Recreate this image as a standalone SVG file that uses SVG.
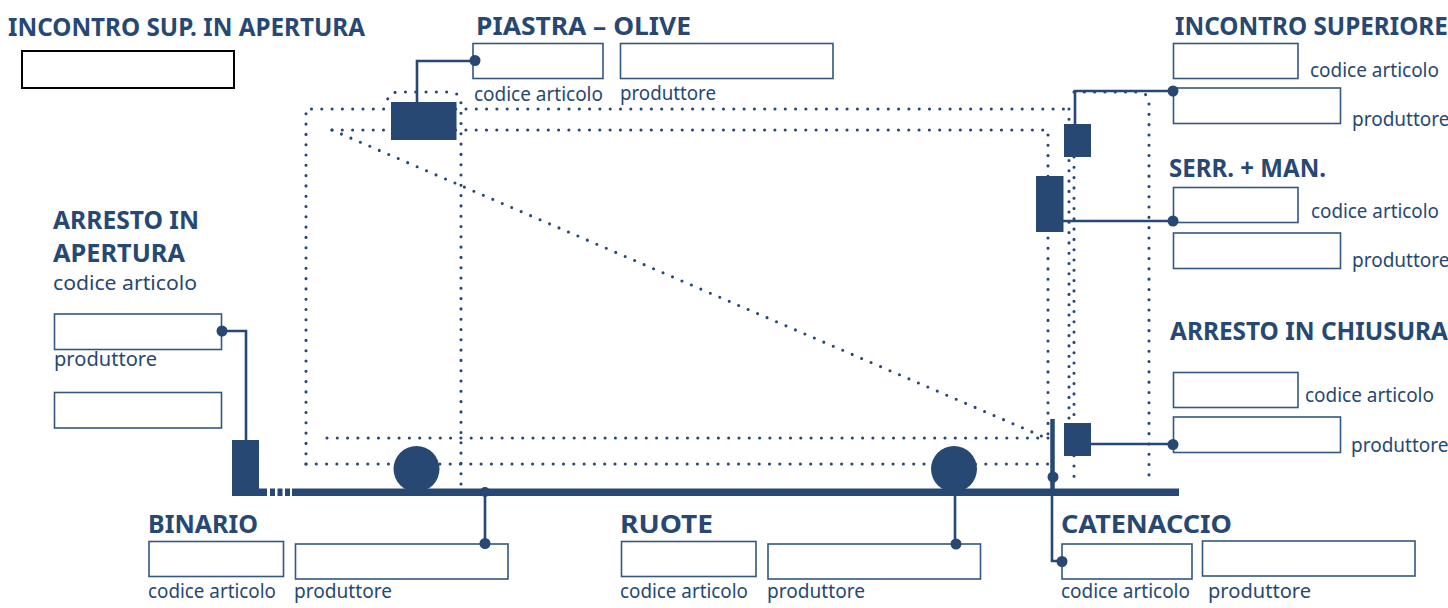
<svg xmlns="http://www.w3.org/2000/svg" width="1448" height="608" viewBox="0 0 1448 608">
<style>
text{font-family:"Noto Sans","Open Sans","Liberation Sans",sans-serif;fill:#264872}
.t{font-size:25px;font-weight:700}
.l{font-size:19.5px}
.n{font-size:19px}
.b{fill:#fff;stroke:#34577f;stroke-width:1.6}
.k{fill:#fff;stroke:#000;stroke-width:2}
.d{fill:none;stroke:#264872;stroke-width:3.1;stroke-linecap:round;stroke-dasharray:0 10.3}
.c{fill:none;stroke:#264872;stroke-width:2.6}
.s{fill:#264872}
</style>
<defs><circle id="dot" r="5.5" class="s"/></defs>
<g id="connectors">
<path class="d" d="M306 464V109H1070"/>
<path class="d" d="M306 464H1048"/>
<path class="d" d="M332 130H1048V438"/>
<path class="d" d="M332 130L1046 438"/>
<path class="d" d="M327 438H1048"/>
<path class="d" d="M461 484V104Q461 92 449 92H399Q387 92 387 104"/>
<path class="d" d="M1074 92H1137Q1149 92 1149 104V482"/>
<path class="d" d="M1069 109V430"/>
<path class="d" d="M1074 157V482"/>
<path class="c" d="M417 104V61H475"/>
<path class="c" d="M1075 125V91H1173"/>
<path class="c" d="M1060 221H1173"/>
<path class="c" d="M1091 444H1173"/>
<path class="c" d="M222 331H246V440"/>
<path class="c" d="M485 492V543"/>
<path class="c" d="M955 492V544"/>
<path class="c" d="M1052 496V561H1061"/>
<path d="M1052.500 419V490" fill="none" stroke="#264872" stroke-width="4.500"/>
</g>
<g id="rail">
<rect class="s" x="292" y="488.500" width="887" height="7.500"/>
<rect class="s" x="232" y="488.500" width="35" height="7.500"/>
<rect class="s" x="270" y="488.500" width="5" height="7.500"/>
<rect class="s" x="277.500" y="488.500" width="5" height="7.500"/>
<rect class="s" x="285" y="488.500" width="5" height="7.500"/>
<rect class="s" x="232" y="440" width="27" height="50"/>
<circle class="s" cx="416.500" cy="469" r="23"/>
<circle class="s" cx="954" cy="469" r="23"/>
<rect class="s" x="391" y="102" width="65.500" height="38"/>
<rect class="s" x="1064" y="124" width="27" height="33"/>
<rect class="s" x="1036" y="176" width="27.500" height="56"/>
<rect class="s" x="1064" y="423" width="27" height="33"/>
</g>
<g id="incontro-sup-apertura">
<text class="t" x="8" y="36" textLength="357" lengthAdjust="spacingAndGlyphs">INCONTRO SUP. IN APERTURA</text>
<rect class="k" x="22" y="51" width="212" height="37"/>
</g>
<g id="piastra-olive">
<text class="t" x="476" y="35" textLength="215" lengthAdjust="spacingAndGlyphs">PIASTRA – OLIVE</text>
<rect class="b" x="473" y="43.500" width="130" height="35"/>
<rect class="b" x="620.500" y="43.500" width="212.500" height="35"/>
<text class="l" x="474" y="101" textLength="129" lengthAdjust="spacingAndGlyphs">codice articolo</text>
<text class="l" x="620" y="100" textLength="96" lengthAdjust="spacingAndGlyphs">produttore</text>
<use href="#dot" x="475" y="60.500"/>
</g>
<g id="incontro-superiore">
<text class="t" x="0" y="0" transform="translate(1175 35) scale(.88 1)" textLength="310" lengthAdjust="spacingAndGlyphs">INCONTRO SUPERIORE</text>
<rect class="b" x="1173.500" y="43.500" width="124.500" height="35"/>
<rect class="b" x="1173.500" y="88" width="167" height="35.500"/>
<text class="l" x="1310" y="77" textLength="129" lengthAdjust="spacingAndGlyphs">codice articolo</text>
<text class="n" x="1352" y="126">produttore</text>
<use href="#dot" x="1173" y="91"/>
</g>
<g id="serr-man">
<text class="t" x="1169" y="177" textLength="157" lengthAdjust="spacingAndGlyphs">SERR. + MAN.</text>
<rect class="b" x="1173.500" y="187.500" width="124.500" height="35"/>
<rect class="b" x="1173.500" y="233" width="167" height="35.500"/>
<text class="l" x="1311" y="218" textLength="128" lengthAdjust="spacingAndGlyphs">codice articolo</text>
<text class="n" x="1352" y="267">produttore</text>
<use href="#dot" x="1173" y="221"/>
</g>
<g id="arresto-chiusura">
<text class="t" x="0" y="0" transform="translate(1170 340) scale(.88 1)" textLength="315.900" lengthAdjust="spacingAndGlyphs">ARRESTO IN CHIUSURA</text>
<rect class="b" x="1173.500" y="372.500" width="124.500" height="35"/>
<rect class="b" x="1173.500" y="417" width="167" height="35.500"/>
<text class="l" x="1305" y="402" textLength="129" lengthAdjust="spacingAndGlyphs">codice articolo</text>
<text class="n" x="1351" y="452">produttore</text>
<use href="#dot" x="1173" y="444.500"/>
</g>
<g id="arresto-apertura">
<text class="t" x="53" y="229" textLength="146" lengthAdjust="spacingAndGlyphs">ARRESTO IN</text>
<text class="t" x="53" y="262" textLength="132" lengthAdjust="spacingAndGlyphs">APERTURA</text>
<text class="l" x="53" y="290" textLength="144" lengthAdjust="spacingAndGlyphs">codice articolo</text>
<rect class="b" x="54.500" y="314" width="167" height="35.500"/>
<text class="l" x="54" y="366" textLength="103" lengthAdjust="spacingAndGlyphs">produttore</text>
<rect class="b" x="54.500" y="392.500" width="167" height="35.500"/>
<use href="#dot" x="222" y="331"/>
</g>
<g id="binario">
<text class="t" x="148" y="533" textLength="110" lengthAdjust="spacingAndGlyphs">BINARIO</text>
<rect class="b" x="149" y="541.500" width="134.500" height="35"/>
<rect class="b" x="295.500" y="544" width="212.500" height="35"/>
<text class="l" x="148" y="598" textLength="128" lengthAdjust="spacingAndGlyphs">codice articolo</text>
<text class="l" x="294" y="598" textLength="98" lengthAdjust="spacingAndGlyphs">produttore</text>
<use href="#dot" x="485" y="543.500"/>
<circle class="s" cx="485" cy="492" r="5"/>
</g>
<g id="ruote">
<text class="t" x="620" y="533" textLength="93" lengthAdjust="spacingAndGlyphs">RUOTE</text>
<rect class="b" x="621.500" y="541.500" width="134.500" height="35"/>
<rect class="b" x="768" y="544" width="212.500" height="35"/>
<text class="l" x="620" y="598" textLength="128" lengthAdjust="spacingAndGlyphs">codice articolo</text>
<text class="l" x="767" y="598" textLength="98" lengthAdjust="spacingAndGlyphs">produttore</text>
<use href="#dot" x="956" y="544"/>
</g>
<g id="catenaccio">
<text class="t" x="1061" y="533" textLength="171" lengthAdjust="spacingAndGlyphs">CATENACCIO</text>
<rect class="b" x="1062" y="544" width="130" height="35"/>
<rect class="b" x="1202.500" y="541" width="212.500" height="35"/>
<text class="l" x="1061" y="598" textLength="129" lengthAdjust="spacingAndGlyphs">codice articolo</text>
<text class="l" x="1208" y="598" textLength="103" lengthAdjust="spacingAndGlyphs">produttore</text>
<use href="#dot" x="1062" y="561.500"/>
<use href="#dot" x="1053" y="477"/>
</g>
</svg>
